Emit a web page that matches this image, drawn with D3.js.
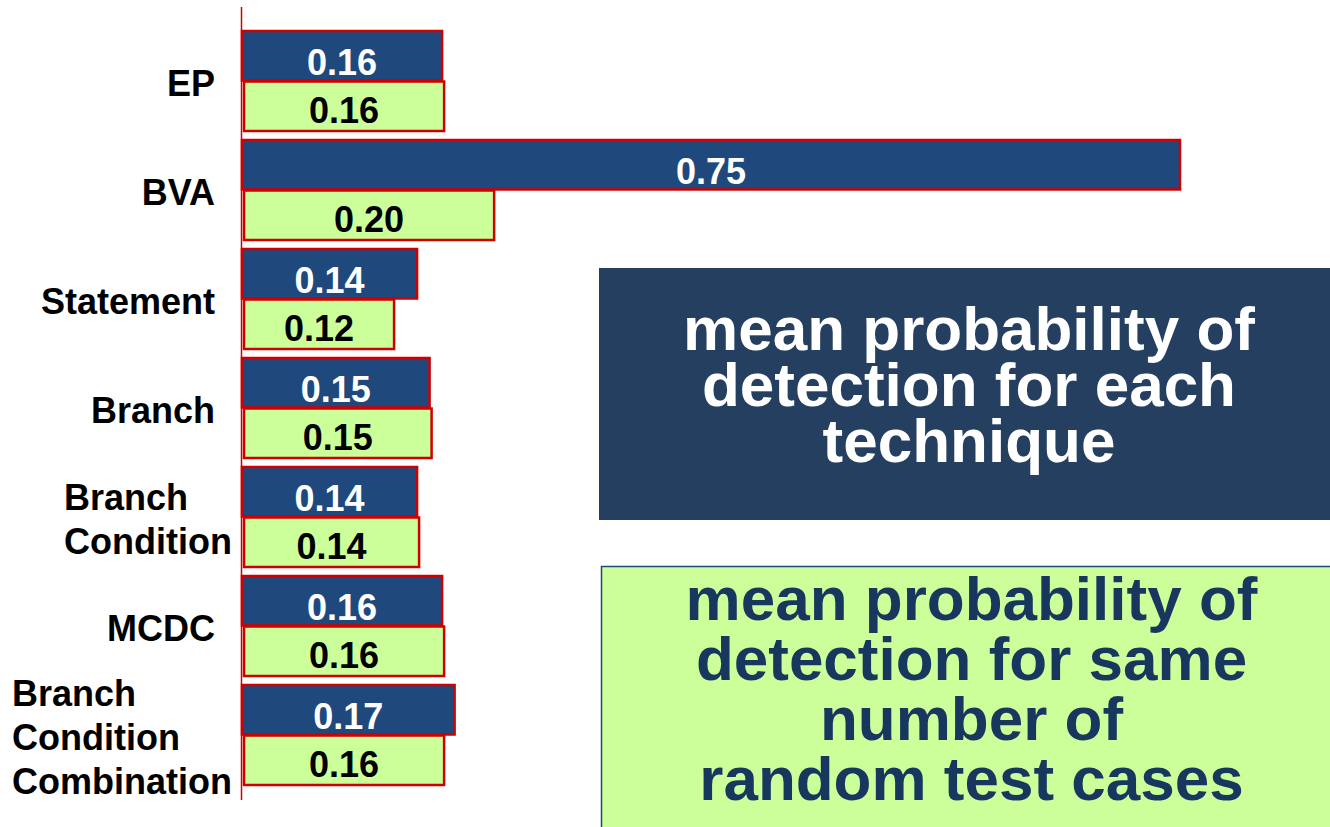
<!DOCTYPE html>
<html>
<head>
<meta charset="utf-8">
<script src="https://cdn.jsdelivr.net/npm/d3@7"></script>
<style>
  body { margin: 0; background: #fff; }
  svg { display: block; font-family: "Liberation Sans", Arial, sans-serif; font-weight: bold; }
</style>
</head>
<body>
<div id="chart"></div>
<script>
// categories (testing techniques) and the two series
const categories = ["EP", "BVA", "Statement", "Branch", "Branch Condition", "MCDC", "Branch Condition Combination"];
const techniqueMean = [0.16, 0.75, 0.14, 0.15, 0.14, 0.16, 0.17];
const randomMean = [0.16, 0.20, 0.12, 0.15, 0.14, 0.16, 0.16];
const seriesNames = ["technique", "random"];
const legendTechnique = ["mean probability of", "detection for each", "technique"];
const legendRandom = ["mean probability of", "detection for same", "number of", "random test cases"];

const width = 1330;
const height = 827;

const svg = d3.select("#chart")
    .append("svg")
    .attr("width", width)
    .attr("height", height);

// scales
const x = d3.scaleLinear().domain([0, 0.75]).range([242, 1180]);
const y = d3.scaleBand()
    .domain(categories)
    .range([26.5, 789.5])
    .paddingInner(0.0826)
    .paddingOuter(0.0413);
const ySub = d3.scaleBand()
    .domain(seriesNames)
    .range([0, y.bandwidth()])
    .paddingInner(0.02);

const fill = { technique: "#1f497d", random: "#ccff99" };
const textColor = { technique: "#ffffff", random: "#000000" };

// rows for drawing
const rows = [];
categories.forEach((c, i) => {
    rows.push({ cat: c, series: "technique", value: techniqueMean[i] });
    rows.push({ cat: c, series: "random", value: randomMean[i] });
});

// bars
svg.selectAll("rect.bar")
    .data(rows)
    .enter()
    .append("rect")
    .attr("class", "bar")
    .attr("x", d => x(0) + (d.series === "random" ? 2 : 0))
    .attr("y", d => y(d.cat) + ySub(d.series))
    .attr("width", d => x(d.value) - x(0))
    .attr("height", ySub.bandwidth())
    .attr("fill", d => fill[d.series])
    .attr("stroke", "#d00000")
    .attr("stroke-width", 2.5);

// value labels
svg.selectAll("text.val")
    .data(rows)
    .enter()
    .append("text")
    .attr("class", "val")
    .attr("x", d => (x(0) + x(d.value)) / 2 + (d.series === "random" ? 2 : 0))
    .attr("y", d => y(d.cat) + ySub(d.series) + ySub.bandwidth() / 2 + 13 + (d.series === "technique" ? 6 : 4))
    .attr("text-anchor", "middle")
    .attr("font-size", 36)
    .attr("fill", d => textColor[d.series])
    .text(d => d.value.toFixed(2));

// red vertical axis line
svg.append("line")
    .attr("x1", 241.5).attr("x2", 241.5)
    .attr("y1", 7).attr("y2", 800)
    .attr("stroke", "#d00000")
    .attr("stroke-width", 1.5);

// category labels, long names wrap one word per line
const lineGap = 44;
categories.forEach(c => {
    const words = c.split(" ");
    const cy = y(c) + y.bandwidth() / 2;
    const g = svg.append("g");
    const t = g.append("text")
        .attr("font-size", 36)
        .attr("fill", "#000");
    words.forEach((w, i) => {
        t.append("tspan")
            .attr("x", 0)
            .attr("y", cy + 13 + (i - (words.length - 1) / 2) * lineGap + 2)
            .text(w);
    });
    const w = t.node().getBBox().width;
    const right = words.length > 1 ? 232 : 215;
    g.attr("transform", `translate(${right - w},0)`);
});

// legend-like text boxes
function textBox(lines, box, bg, stroke, color, baseline0, gap) {
    svg.append("rect")
        .attr("x", box.x).attr("y", box.y)
        .attr("width", box.w).attr("height", box.h)
        .attr("fill", bg)
        .attr("stroke", stroke)
        .attr("stroke-width", stroke === "none" ? 0 : 1.5);
    svg.append("text")
        .attr("text-anchor", "middle")
        .attr("font-size", 62)
        .attr("fill", color)
        .selectAll("tspan")
        .data(lines)
        .enter()
        .append("tspan")
        .attr("x", box.x + 370)
        .attr("y", (d, i) => baseline0 + i * gap)
        .text(d => d);
}

textBox(legendTechnique, { x: 599, y: 268, w: 731, h: 252 }, "#243f60", "none", "#ffffff", 350, 56);
textBox(legendRandom, { x: 601.5, y: 566.5, w: 740, h: 270 }, "#ccff99", "#1f497d", "#17375e", 620, 60);
</script>
</body>
</html>
